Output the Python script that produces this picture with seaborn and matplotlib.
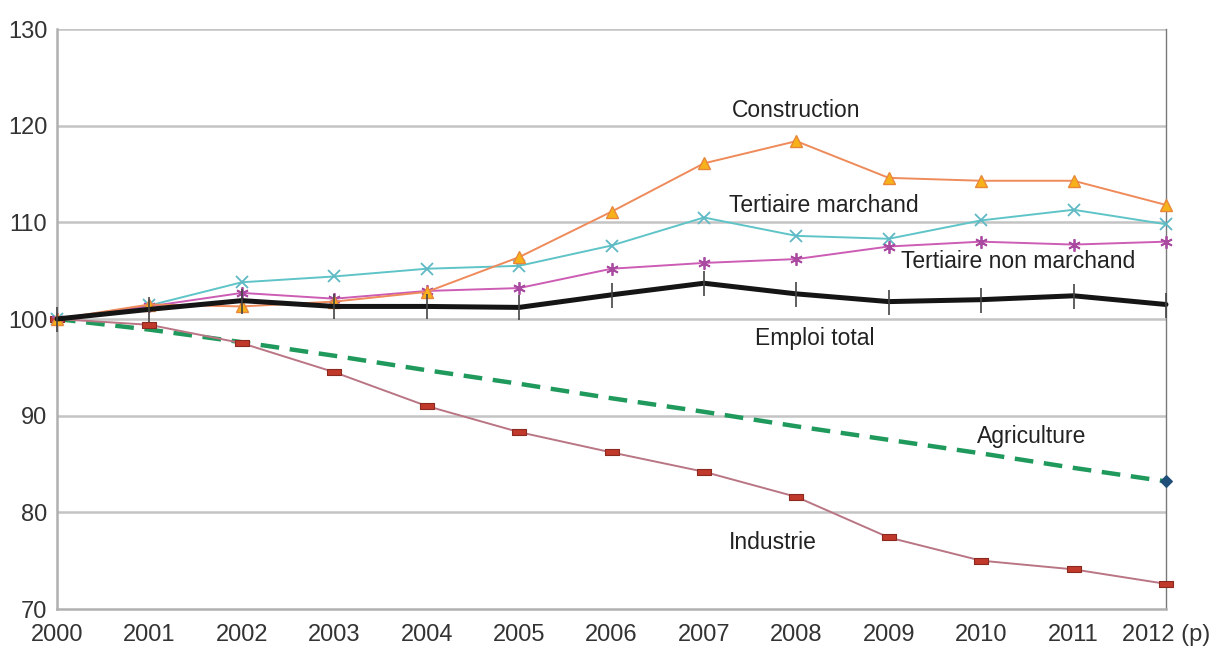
import matplotlib
matplotlib.use("Agg")
import matplotlib.pyplot as plt
import matplotlib.transforms as mtransforms
from matplotlib.path import Path
import numpy as np
import pandas as pd
import seaborn as sns

# Employment index by sector, base 100 in 2000
years = [2000, 2001, 2002, 2003, 2004, 2005, 2006, 2007, 2008, 2009, 2010, 2011, 2012]
year_labels = ["2000", "2001", "2002", "2003", "2004", "2005", "2006",
               "2007", "2008", "2009", "2010", "2011", "2012 (p)"]

construction = [100.0, 101.5, 101.3, 101.8, 102.8, 106.4, 111.1, 116.1, 118.4, 114.6, 114.3, 114.3, 111.8]
tertiaire_marchand = [100.0, 101.4, 103.8, 104.4, 105.2, 105.5, 107.6, 110.5, 108.6, 108.3, 110.2, 111.3, 109.8]
tertiaire_non_marchand = [100.0, 101.3, 102.7, 102.1, 102.9, 103.2, 105.2, 105.8, 106.2, 107.5, 108.0, 107.7, 108.0]
emploi_total = [100.0, 101.0, 101.9, 101.3, 101.3, 101.2, 102.5, 103.7, 102.6, 101.8, 102.0, 102.4, 101.5]
agriculture = [100.0, 98.9, 97.6, 96.2, 94.7, 93.3, 91.8, 90.4, 88.9, 87.5, 86.1, 84.6, 83.2]
industrie = [100.0, 99.4, 97.5, 94.5, 91.0, 88.3, 86.2, 84.2, 81.6, 77.4, 75.0, 74.1, 72.6]

series_labels = ["Construction", "Tertiaire marchand", "Tertiaire non marchand",
                 "Emploi total", "Agriculture", "Industrie"]

sns.set_style("white")
plt.rcParams["font.family"] = ["Liberation Sans", "DejaVu Sans"]

fig = plt.figure(figsize=(12.22, 6.5), dpi=100)
ax = fig.add_axes([57 / 1222, 41 / 650, (1166 - 57) / 1222, (609 - 29) / 650])

grid_col = "#c4c4c4"
for v in [80, 90, 100, 110, 120, 130]:
    ax.axhline(v, color=grid_col, lw=1.8, zorder=0)

rect = Path([(-1, -0.45), (1, -0.45), (1, 0.45), (-1, 0.45), (-1, -0.45)],
            [Path.MOVETO, Path.LINETO, Path.LINETO, Path.LINETO, Path.CLOSEPOLY])

df = pd.DataFrame({"annee": years})

def draw(values, **kw):
    d = df.assign(val=values)
    sns.lineplot(data=d, x="annee", y="val", ax=ax, clip_on=False, **kw)

draw(agriculture, color="#1f9a5c", lw=3.2, dashes=[(4.2, 2.4)], style=[0] * len(years),
     legend=False, marker="D", markevery=[len(years) - 1], markersize=6,
     markerfacecolor="#1f4e79", markeredgecolor="#1f4e79", zorder=3)
draw(industrie, color="#b97584", lw=1.4, marker=rect, markersize=10,
     markerfacecolor="#c0392b", markeredgecolor="#8b2a1f", markeredgewidth=0.8, zorder=3)
draw(tertiaire_marchand, color="#5fc4c8", lw=1.4, marker="x", markersize=8,
     markeredgecolor="#5fb8c4", markeredgewidth=1.3, zorder=4)
draw(tertiaire_non_marchand, color="#cc5cb4", lw=1.4, marker=(6, 2, 0), markersize=9,
     markeredgecolor="#a94aa0", markeredgewidth=1.3, zorder=4)
draw(construction, color="#ef8a5a", lw=1.4, marker="^", markersize=9,
     markerfacecolor="#f7b21a", markeredgecolor="#e8873a", markeredgewidth=1.0, zorder=5)
draw(emploi_total, color="#151515", lw=3.6, marker="|", markersize=18,
     markeredgecolor="#444444", markeredgewidth=1.2, zorder=6)

ax.set_xlim(2000, 2012)
ax.set_ylim(70, 130)
ax.set_xlabel("")
ax.set_ylabel("")
ax.set_xticks(years)
ax.set_xticklabels(year_labels)
ax.set_yticks([70, 80, 90, 100, 110, 120, 130])

for lbl in ax.get_xticklabels():
    if lbl.get_text().endswith("(p)"):
        lbl.set_transform(lbl.get_transform() +
                          mtransforms.ScaledTranslation(18 / 100, 0, fig.dpi_scale_trans))

ax.tick_params(axis="both", colors="#a0a0a0", labelcolor="#333333", labelsize=17,
               length=5, width=1.2, pad=2, direction="out")
ax.tick_params(axis="x", pad=6)

ax.spines["top"].set_visible(False)
ax.spines["left"].set_color("#b0b0b0")
ax.spines["left"].set_linewidth(1.8)
ax.spines["bottom"].set_color("#b0b0b0")
ax.spines["bottom"].set_linewidth(1.8)
ax.spines["right"].set_color("#7a7a7a")
ax.spines["right"].set_linewidth(1.0)

# Series annotations placed beside each curve
label_pos = [(2008.0, 121.6), (2008.3, 111.7), (2010.4, 105.9),
             (2008.2, 98.0), (2010.55, 87.8), (2007.75, 76.9)]
for name, (xv, yv) in zip(series_labels, label_pos):
    ax.text(xv, yv, name, ha="center", va="center", fontsize=16.5, color="#222222", zorder=7)

fig.savefig("out.png", dpi=100, facecolor="white")
